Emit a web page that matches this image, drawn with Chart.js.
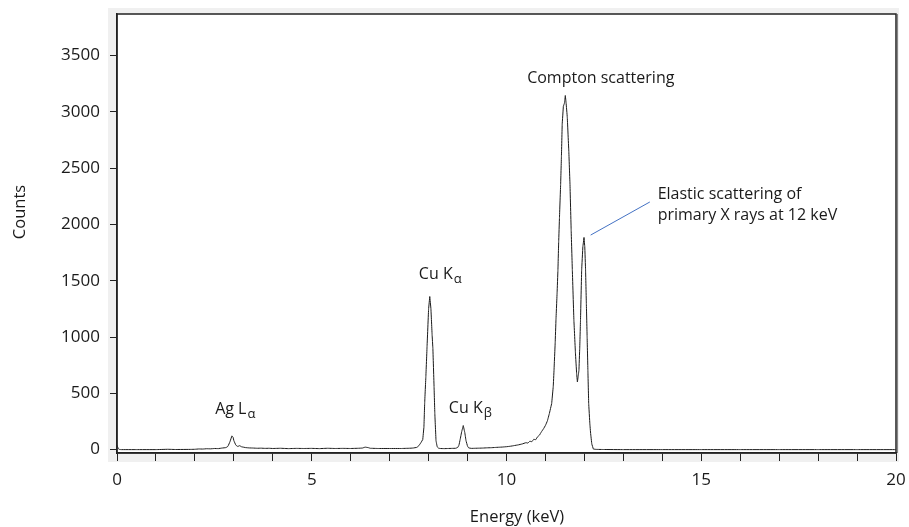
<!DOCTYPE html>
<html>
<head>
<meta charset="utf-8">
<script src="https://cdn.jsdelivr.net/npm/chart.js@4/dist/chart.umd.min.js"></script>
<style>
 html,body{margin:0;padding:0;background:#fff;}
 #wrap{width:909px;height:527px;position:relative;}
</style>
</head>
<body>
<div id="wrap"><canvas id="spectrum"></canvas></div>
<script>
// spectrum data (energy in keV, counts)
var energy=[
 0.00,0.03,0.06,0.10,0.50,1.00,1.30,1.50,1.90,2.00,2.10,2.20,2.30,2.40,2.50,2.60,2.70,2.80,2.85,2.90,
 2.95,2.98,3.00,3.05,3.10,3.15,3.20,3.30,3.40,3.50,3.60,3.70,3.80,3.90,4.00,4.20,4.40,4.60,4.80,5.00,
 5.20,5.40,5.60,5.80,6.00,6.20,6.30,6.37,6.45,6.50,6.70,7.00,7.30,7.50,7.60,7.70,7.75,7.80,7.85,7.88,
 7.90,7.93,7.96,8.00,8.03,8.06,8.09,8.11,8.14,8.16,8.19,8.22,8.26,8.30,8.40,8.50,8.60,8.70,8.75,8.78,
 8.81,8.85,8.89,8.93,8.96,9.00,9.03,9.10,9.20,9.30,9.40,9.50,9.60,9.70,9.80,9.90,10.00,10.10,10.20,10.30,
 10.40,10.50,10.55,10.60,10.65,10.70,10.75,10.80,10.85,10.87,10.90,10.95,11.00,11.05,11.10,11.16,11.20,11.22,11.25,11.27,
 11.30,11.32,11.34,11.36,11.39,11.41,11.43,11.46,11.49,11.51,11.53,11.56,11.60,11.63,11.66,11.69,11.73,11.77,11.80,11.82,
 11.84,11.86,11.88,11.90,11.93,11.96,11.99,12.01,12.03,12.05,12.07,12.09,12.11,12.14,12.16,12.19,12.23,12.30,12.50,13.00,
 14.00,15.00,16.00,17.00,18.00,19.00,20.00
];
var counts=[
 40,10,2,0,0,0,3,1,2,3,6,5,8,7,10,9,14,18,30,70,
 122,110,80,40,28,35,25,18,15,14,12,13,11,12,10,12,9,11,10,11,
 9,12,10,11,10,12,14,22,18,12,10,10,10,12,14,20,35,60,90,200,
 420,650,913,1250,1360,1250,1020,900,560,319,80,25,12,10,9,10,11,12,20,40,
 90,160,214,150,80,30,15,11,12,13,14,16,17,19,21,23,26,30,36,42,
 50,62,58,75,70,92,88,115,130,143,160,185,215,255,320,410,560,705,950,1152,
 1400,1590,1850,2062,2357,2600,2893,3050,3080,3146,3080,2955,2650,2357,1950,1598,1152,857,680,601,
 650,705,900,1152,1598,1800,1885,1800,1598,1300,1000,700,410,230,143,50,5,2,1,0,
 0,0,0,0,0,0,0
];
// axis ticks
var xTicks=[0,1,2,3,4,5,6,7,8,9,10,11,12,13,14,15,16,17,18,19,20];
var xLabels=[0,5,10,15,20];
var yTicks=[0,500,1000,1500,2000,2500,3000,3500];
// peak labels: text, subscript, energy, counts (baseline anchor)
var peakLabels=[
 {text:"Ag L",sub:"\u03b1",x:2.52,y:316,align:"left"},
 {text:"Cu K",sub:"\u03b1",x:7.75,y:1516,align:"left"},
 {text:"Cu K",sub:"\u03b2",x:8.52,y:328,align:"left"},
 {text:"Compton scattering",sub:"",x:12.42,y:3257,align:"center"},
 {text:"Elastic scattering of",sub:"",x:13.88,y:2226,align:"left"},
 {text:"primary X rays at 12 keV",sub:"",x:13.88,y:2044,align:"left"}
];
var pointer={x0:12.16,y0:1906,x1:13.68,y1:2200};

var FONT="'Open Sans', sans-serif";

// panel background and annotations
var decor={
 id:"decor",
 beforeDraw:function(chart){
  var c=chart.ctx,a=chart.chartArea;
  c.save();
  c.fillStyle="#fff";
  c.fillRect(0,0,chart.width,chart.height);
  c.fillStyle="#f0f0f0";
  c.fillRect(a.left-9,a.top-6,a.right-a.left+12,a.bottom-a.top+15);
  c.fillStyle="#fff";
  c.fillRect(a.left,a.top,a.right-a.left,a.bottom-a.top);
  c.restore();
 },
 afterDraw:function(chart){
  var c=chart.ctx,a=chart.chartArea,xs=chart.scales.x,ys=chart.scales.y;
  c.save();
  // frame
  c.strokeStyle="#222";c.lineWidth=1.5;
  c.strokeRect(a.left,a.top,a.right-a.left,a.bottom-a.top);
  c.strokeStyle="#888";c.lineWidth=1;
  c.beginPath();c.moveTo(a.right+1.5,a.top);c.lineTo(a.right+1.5,a.bottom);c.stroke();
  // pointer line
  c.strokeStyle="#4472c4";c.lineWidth=1;
  c.beginPath();
  c.moveTo(xs.getPixelForValue(pointer.x0),ys.getPixelForValue(pointer.y0));
  c.lineTo(xs.getPixelForValue(pointer.x1),ys.getPixelForValue(pointer.y1));
  c.stroke();
  // peak labels
  c.fillStyle="#1a1a1a";c.textBaseline="alphabetic";
  peakLabels.forEach(function(l){
   var px=xs.getPixelForValue(l.x),py=ys.getPixelForValue(l.y);
   c.font="16px "+FONT;c.textAlign=l.align;
   c.fillText(l.text,px,py);
   if(l.sub){
    var w=c.measureText(l.text).width;
    c.font="13px "+FONT;c.textAlign="left";
    c.fillText(l.sub,px+w+1,py+4);
   }
  });
  // axis titles
  c.font="16.5px "+FONT;c.textAlign="center";
  c.fillText("Energy (keV)",517,522);
  c.translate(25,212);c.rotate(-Math.PI/2);
  c.fillText("Counts",0,0);
  c.restore();
 }
};

new Chart(document.getElementById("spectrum").getContext("2d"),{
 type:"line",
 data:{
  datasets:[{
   data:energy.map(function(e,i){return {x:e,y:counts[i]};}),
   borderColor:"#1a1a1a",
   borderWidth:1,
   pointRadius:0,
   tension:0.0001,
   fill:false
  }]
 },
 options:{
  responsive:true,
  maintainAspectRatio:false,
  animation:false,
  layout:{padding:{top:14,right:13,left:0,bottom:0}},
  plugins:{legend:{display:false},tooltip:{enabled:false}},
  scales:{
   x:{
    type:"linear",min:0,max:20,
    afterBuildTicks:function(s){s.ticks=xTicks.map(function(v){return {value:v};});},
    afterFit:function(s){s.height=74;s.paddingLeft=0;s.paddingRight=0;},
    grid:{drawOnChartArea:false,drawTicks:true,tickLength:8,tickColor:"#222",tickWidth:1},
    border:{display:true,color:"#222",width:1.5},
    ticks:{
     autoSkip:false,maxRotation:0,padding:9,color:"#1a1a1a",font:{family:FONT,size:17},
     callback:function(v){return xLabels.indexOf(v)>=0?String(v):"";}
    }
   },
   y:{
    type:"linear",min:-30,max:3870,
    afterBuildTicks:function(s){s.ticks=yTicks.map(function(v){return {value:v};});},
    afterFit:function(s){s.width=117;s.paddingTop=0;s.paddingBottom=0;},
    grid:{drawOnChartArea:false,drawTicks:true,tickLength:7,tickColor:"#222",tickWidth:1},
    border:{display:true,color:"#222",width:1.5},
    ticks:{
     padding:10,color:"#1a1a1a",font:{family:FONT,size:17},
     callback:function(v){return String(v);}
    }
   }
  }
 },
 plugins:[decor]
});
</script>
</body>
</html>
